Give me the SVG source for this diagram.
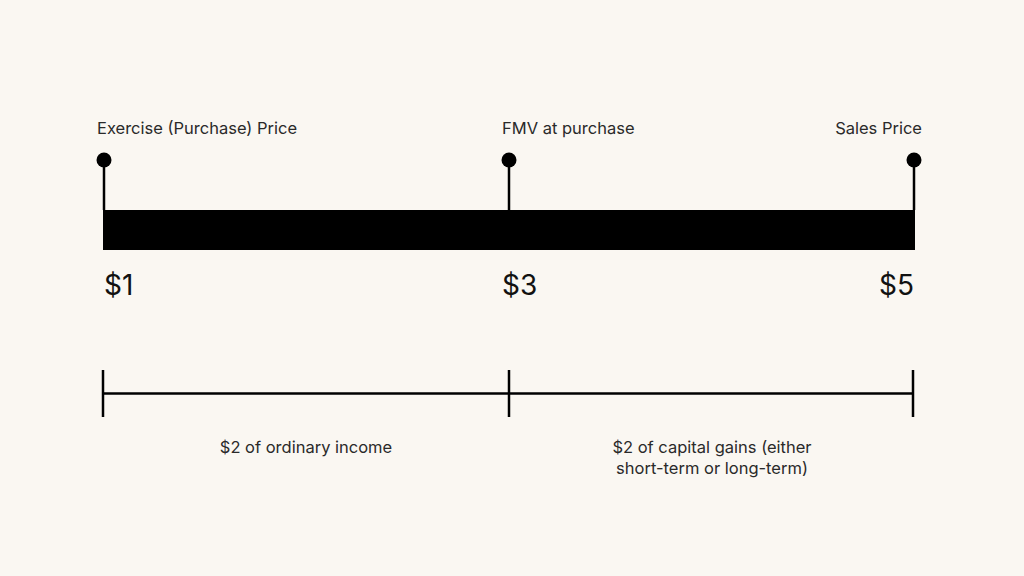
<svg xmlns="http://www.w3.org/2000/svg" width="1024" height="576" viewBox="0 0 1024 576">
<style>
.lbl{font-family:Inter,"Liberation Sans",sans-serif;font-size:16.5px;fill:#2a2a2a}
.val{font-family:Inter,"Liberation Sans",sans-serif;font-size:28px;fill:#111}
.pin{stroke:#000;stroke-width:2.5}
.tick{stroke:#000;stroke-width:2.5;fill:none}
</style>
<rect width="1024" height="576" fill="#faf7f2"/>
<g id="bar"><rect x="103" y="210" width="812" height="40" fill="#000"/></g>
<g id="pin-exercise">
<line class="pin" x1="104" y1="160" x2="104" y2="210"/>
<circle cx="104" cy="160" r="7.5" fill="#000"/>
<text class="lbl" x="97" y="134">Exercise (Purchase) Price</text>
<text class="val" x="104" y="295">$1</text>
</g>
<g id="pin-fmv">
<line class="pin" x1="509" y1="160" x2="509" y2="210"/>
<circle cx="509" cy="160" r="7.5" fill="#000"/>
<text class="lbl" x="502" y="134">FMV at purchase</text>
<text class="val" x="502" y="295">$3</text>
</g>
<g id="pin-sales">
<line class="pin" x1="914" y1="160" x2="914" y2="210"/>
<circle cx="914" cy="160" r="7.5" fill="#000"/>
<text class="lbl" x="922" y="134" text-anchor="end">Sales Price</text>
<text class="val" x="914" y="295" text-anchor="end">$5</text>
</g>
<g id="connectors">
<line class="tick" x1="103" y1="370" x2="103" y2="417"/>
<line class="tick" x1="509" y1="370" x2="509" y2="417"/>
<line class="tick" x1="913" y1="370" x2="913" y2="417"/>
<line class="tick" x1="103" y1="393.5" x2="913" y2="393.5"/>
</g>
<g id="seg-ordinary">
<text class="lbl" x="306" y="453" text-anchor="middle">$2 of ordinary income</text>
</g>
<g id="seg-capital">
<text class="lbl" x="712" y="453" text-anchor="middle">$2 of capital gains (either</text>
<text class="lbl" x="712" y="474" text-anchor="middle">short-term or long-term)</text>
</g>
</svg>
